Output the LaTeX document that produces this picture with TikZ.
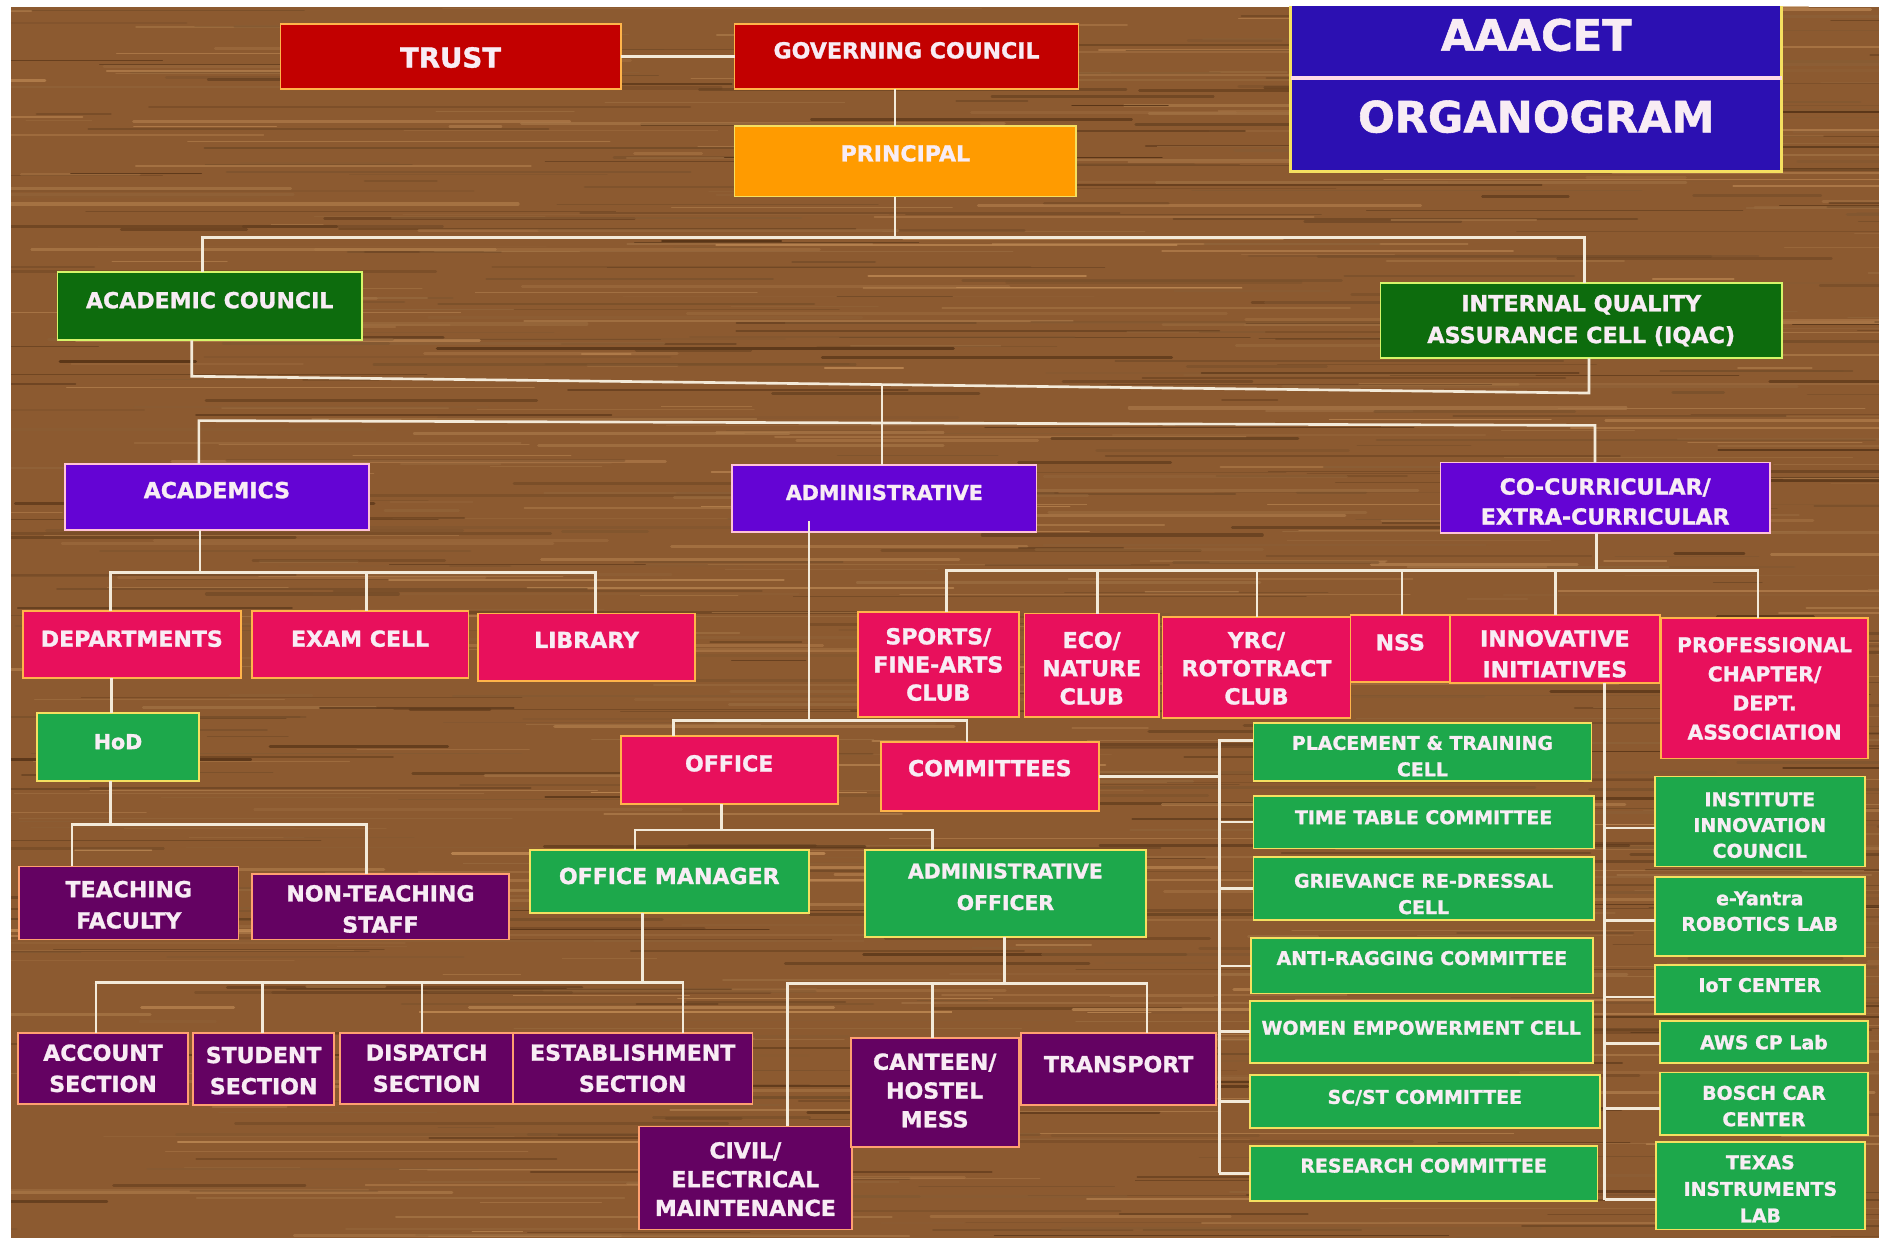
\documentclass[tikz,border=0pt]{standalone}
\usepackage{fontspec}
\setmainfont{DejaVu Sans}[BoldFeatures={FakeBold=1.3}]
\definecolor{wood}{HTML}{8C5A30}
\definecolor{woodD}{HTML}{4A2A10}
\definecolor{woodL}{HTML}{C48E58}
\definecolor{cRed}{HTML}{C20000}
\definecolor{cOra}{HTML}{FF9B00}
\definecolor{cDG}{HTML}{0D6C0D}
\definecolor{cBlue}{HTML}{2C10B2}
\definecolor{cPur}{HTML}{6404D4}
\definecolor{cPink}{HTML}{E8105C}
\definecolor{cGrn}{HTML}{1DA84B}
\definecolor{cDP}{HTML}{640262}
\definecolor{bOra}{HTML}{FFB44A}
\definecolor{bYel}{HTML}{F5E060}
\definecolor{bLG}{HTML}{D6F56A}
\definecolor{bPink}{HTML}{FFC2D6}
\definecolor{bPO}{HTML}{FFA070}
\definecolor{txt}{HTML}{F8ECF4}
\definecolor{conn}{HTML}{F3EAD9}
\newcommand\lf[2]{\bfseries\fontsize{#1}{#2}\selectfont}
\newcommand\orgbox[9]{%
  \node[#2, minimum width={(#6)-(#4)}, minimum height={(#7)-(#5)}] (#1) at ({((#4)+(#6))/2},{((#5)+(#7))/2}) {};%
  \node[#3] (#1-t) at ({((#4)+(#6))/2},{#8}) {#9};%
}
\tikzset{
  bx/.style={draw, line width=1.5pt, inner sep=0pt, outer sep=0pt},
  redbox/.style={bx, fill=cRed, draw=bOra},
  orabox/.style={bx, fill=cOra, draw=bYel},
  dgbox/.style={bx, fill=cDG, draw=bLG},
  purbox/.style={bx, fill=cPur, draw=bPink},
  pinkbox/.style={bx, fill=cPink, draw=bOra},
  grnbox/.style={bx, fill=cGrn, draw=bYel},
  dpbox/.style={bx, fill=cDP, draw=bPO},
  bluebox/.style={bx, fill=cBlue, draw=bYel, line width=2.5pt},
  lbl/.style={text=txt, align=center, inner sep=0pt, font=\lf{18.4}{24.5}},
  lbls/.style={lbl, font=\lf{15.8}{22}},
  cn/.style={draw=conn, line width=2.2pt},
}
\begin{document}
\begin{tikzpicture}[x=1pt,y=-1pt]
\useasboundingbox (0,0) rectangle (1568,1033);
\begin{scope}
\clip (9.2,5.8) rectangle (1568,1033);
\fill[wood] (9.2,5.8) rectangle (1568,1033);
\pgfmathsetseed{12345}
\foreach \i in {1,...,1100}{
  \pgfmathsetmacro\yy{5.8+1028*rnd}
  \pgfmathsetmacro\xa{-100+1700*rnd}
  \pgfmathsetmacro\ll{40+420*rnd}
  \pgfmathsetmacro\ww{0.5+2.2*rnd}
  \pgfmathtruncatemacro\pp{100*rnd}
  \pgfmathsetmacro\op{0.3+0.5*rnd}
  \draw[color=woodD!\pp!woodL, line width=\ww pt, opacity=\op, line cap=round] (\xa,\yy) -- ++(\ll,0);
}

% title
\orgbox{tt1}{bluebox}{lbl,font=\lf{36}{40}}{1077}{3}{1487}{65}{29.2}{AAACET}
\orgbox{tt2}{bluebox}{lbl,font=\lf{36}{40}}{1077}{65}{1487}{143}{97.4}{ORGANOGRAM}
\draw[draw=bPink!60!white, line width=3pt] (tt1.south west) -- (tt1.south east);

% boxes
\orgbox{trust}{redbox}{lbl,font=\lf{23}{28}}{234}{20}{518}{74}{48}{TRUST}
\orgbox{gc}{redbox}{lbl}{613}{20}{900}{74}{42}{GOVERNING COUNCIL}
\orgbox{prin}{orabox}{lbl}{613}{105}{898}{164}{128}{PRINCIPAL}
\orgbox{ac}{dgbox}{lbl}{48}{227}{302}{284}{250.5}{ACADEMIC COUNCIL}
\orgbox{iqac}{dgbox}{lbl,font=\lf{18.6}{26.5}}{1152}{236}{1487}{299}{267.5}{INTERNAL QUALITY\\ASSURANCE CELL (IQAC)}
\orgbox{acad}{purbox}{lbl}{54}{387}{308}{442}{409}{ACADEMICS}
\orgbox{admin}{purbox}{lbl,font=\lf{17.2}{24}}{611}{388}{865}{444}{411}{ADMINISTRATIVE}
\orgbox{cocur}{purbox}{lbl,font=\lf{18.4}{25}}{1202}{386}{1477}{445}{418.5}{CO-CURRICULAR/\\EXTRA-CURRICULAR}
\orgbox{dept}{pinkbox}{lbl}{19}{510}{201}{566}{533}{DEPARTMENTS}
\orgbox{exam}{pinkbox}{lbl}{210}{510}{391}{566}{533}{EXAM CELL}
\orgbox{lib}{pinkbox}{lbl}{399}{512}{580}{568}{534}{LIBRARY}
\orgbox{hod}{grnbox}{lbl,font=\lf{17.2}{24}}{31}{595}{166}{652}{619}{HoD}
\orgbox{teach}{dpbox}{lbl,font=\lf{18.4}{26}}{16}{723}{199}{784}{755}{TEACHING\\FACULTY}
\orgbox{nonteach}{dpbox}{lbl,font=\lf{18.4}{26}}{210}{729}{425}{784}{758.5}{NON-TEACHING\\STAFF}
\orgbox{office}{pinkbox}{lbl}{518}{614}{699}{671}{637}{OFFICE}
\orgbox{comm}{pinkbox}{lbl}{735}{619}{917}{677}{641}{COMMITTEES}
\orgbox{offman}{grnbox}{lbl}{442}{709}{675}{762}{731}{OFFICE MANAGER}
\orgbox{admoff}{grnbox}{lbl,font=\lf{17}{26.4}}{722}{709}{956}{782}{740}{ADMINISTRATIVE\\OFFICER}
\orgbox{account}{dpbox}{lbl,font=\lf{18.4}{26}}{15}{862}{157}{921}{891.5}{ACCOUNT\\SECTION}
\orgbox{student}{dpbox}{lbl,font=\lf{18.4}{26}}{161}{862}{279}{922}{893.4}{STUDENT\\SECTION}
\orgbox{dispatch}{dpbox}{lbl,font=\lf{18.4}{26}}{284}{862}{428}{921}{891.4}{DISPATCH\\SECTION}
\orgbox{estab}{dpbox}{lbl,font=\lf{18.4}{26}}{428}{862}{628}{921}{891.4}{ESTABLISHMENT\\SECTION}
\orgbox{civil}{dpbox}{lbl,font=\lf{18.4}{24}}{533}{940}{711}{1026}{984}{CIVIL/\\ELECTRICAL\\MAINTENANCE}
\orgbox{canteen}{dpbox}{lbl,font=\lf{18.4}{24}}{710}{866}{850}{957}{910}{CANTEEN/\\HOSTEL\\MESS}
\orgbox{transport}{dpbox}{lbl}{852}{862}{1015}{922}{888}{TRANSPORT}
\orgbox{sports}{pinkbox}{lbl,font=\lf{18.4}{23.5}}{716}{511}{850}{598}{554.5}{SPORTS/\\FINE-ARTS\\CLUB}
\orgbox{eco}{pinkbox}{lbl,font=\lf{18.4}{23.5}}{855}{512}{967}{598}{557.6}{ECO/\\NATURE\\CLUB}
\orgbox{yrc}{pinkbox}{lbl,font=\lf{18.4}{23.5}}{970}{515}{1127}{599}{557.6}{YRC/\\ROTOTRACT\\CLUB}
\orgbox{nss}{pinkbox}{lbl}{1127}{513}{1210}{569}{536}{NSS}
\orgbox{innov}{pinkbox}{lbl,font=\lf{18.4}{25.8}}{1210}{513}{1385}{570}{545.6}{INNOVATIVE\\INITIATIVES}
\orgbox{prof}{pinkbox}{lbl,font=\lf{17}{24.3}}{1386}{516}{1559}{633}{574.5}{PROFESSIONAL\\CHAPTER/\\DEPT.\\ASSOCIATION}
\orgbox{placement}{grnbox}{lbls}{1046}{603}{1328}{652}{631}{PLACEMENT \& TRAINING\\CELL}
\orgbox{timetable}{grnbox}{lbls}{1046}{664}{1330}{708}{682}{TIME TABLE COMMITTEE}
\orgbox{griev}{grnbox}{lbls}{1046}{715}{1330}{768}{746}{GRIEVANCE RE-DRESSAL\\CELL}
\orgbox{anti}{grnbox}{lbls}{1044}{783}{1329}{829}{799.5}{ANTI-RAGGING COMMITTEE}
\orgbox{women}{grnbox}{lbls}{1043}{835}{1329}{887}{857.7}{WOMEN EMPOWERMENT CELL}
\orgbox{scst}{grnbox}{lbls}{1043}{897}{1335}{941}{916}{SC/ST COMMITTEE}
\orgbox{research}{grnbox}{lbls}{1043}{956}{1333}{1002}{972.7}{RESEARCH COMMITTEE}
\orgbox{iic}{grnbox}{lbls,font=\lf{15.8}{21.5}}{1381}{648}{1556}{723}{688.5}{INSTITUTE\\INNOVATION\\COUNCIL}
\orgbox{eyantra}{grnbox}{lbls,font=\lf{15.8}{21.4}}{1381}{732}{1556}{798}{760.4}{e-Yantra\\ROBOTICS LAB}
\orgbox{iot}{grnbox}{lbls}{1381}{805}{1556}{846}{822}{IoT CENTER}
\orgbox{aws}{grnbox}{lbls}{1385}{852}{1559}{887}{869.7}{AWS CP Lab}
\orgbox{bosch}{grnbox}{lbls}{1385}{895}{1559}{947}{923}{BOSCH CAR\\CENTER}
\orgbox{texas}{grnbox}{lbls,font=\lf{15.8}{22.2}}{1382}{953}{1556}{1026}{992}{TEXAS\\INSTRUMENTS\\LAB}

% junction coordinates
\coordinate (pv) at (747,198);
\coordinate (b1l) at (169,198);
\coordinate (b1r) at (1322,198);
\coordinate (b2l) at (160,314);
\coordinate (b2r) at (1326,328);
\coordinate (b2m) at (736,320.9);
\coordinate (b3m) at (736,353);
\coordinate (b3l) at (166,351);
\coordinate (b3r) at (1331,355);
\coordinate (a1) at (167,478);
\coordinate (a1l) at (92,478);
\coordinate (a1r) at (497,478);
\coordinate (a1e) at (306,478);
\coordinate (hd) at (93,580);
\coordinate (h1) at (92,688);
\coordinate (h1l) at (60,688);
\coordinate (h1r) at (306,688);
\coordinate (ad0) at (675,435);
\coordinate (ad1) at (675,601);
\coordinate (ad1l) at (562,601);
\coordinate (ad1r) at (807,601);
\coordinate (o1) at (602,692.6);
\coordinate (o1l) at (530,692.6);
\coordinate (o1r) at (778,692.6);
\coordinate (m1) at (536,820);
\coordinate (m1l) at (80,820);
\coordinate (m1r) at (570,820);
\coordinate (m1s) at (219,820);
\coordinate (m1d) at (352,820);
\coordinate (q1) at (838,820.5);
\coordinate (q1l) at (657,820.5);
\coordinate (q1r) at (957,820.5);
\coordinate (q1c) at (778,820.5);
\coordinate (cvt) at (1017.5,618);
\coordinate (k1) at (1332,476);
\coordinate (k1l) at (790,476);
\coordinate (k1r) at (1467,476);
\coordinate (k2) at (915.6,476);
\coordinate (k3) at (1049,476);
\coordinate (k4) at (1170,476);
\coordinate (k5) at (1298,476);
\coordinate (iv) at (1339,600);
\coordinate (iv1) at (1339,691);
\coordinate (iv2) at (1339,768);
\coordinate (iv3) at (1339,832);
\coordinate (iv4) at (1339,871);
\coordinate (iv5) at (1339,925);
\coordinate (iv6) at (1339,1001);

% connectors
\draw[cn] (trust.east) -- (gc.west);
\draw[cn] (gc.south -| pv) -- (prin.north -| pv);
\draw[cn] (prin.south -| pv) -- (pv);
\draw[cn] (ac.north -| b1l) -- (b1l) -- (b1r) -- (iqac.north -| b1r);
\draw[cn] (ac.south -| b2l) -- (b2l) -- (b2r) -- (iqac.south -| b2r);
\draw[cn] (b2m) -- (b3m);
\draw[cn] (acad.north -| b3l) -- (b3l) -- (b3r) -- (cocur.north -| b3r);
\draw[cn] (b3m) -- (admin.north -| b3m);
\draw[cn] (acad.south -| a1) -- (a1);
\draw[cn] (dept.north -| a1l) -- (a1l) -- (a1r) -- (lib.north -| a1r);
\draw[cn] (a1e) -- (exam.north -| a1e);
\draw[cn] (dept.south -| hd) -- (hod.north -| hd);
\draw[cn] (hod.south -| h1) -- (h1);
\draw[cn] (teach.north -| h1l) -- (h1l) -- (h1r) -- (nonteach.north -| h1r);
\draw[cn] (ad0) -- (ad1);
\draw[cn] (office.north -| ad1l) -- (ad1l) -- (ad1r) -- (comm.north -| ad1r);
\draw[cn] (office.south -| o1) -- (o1);
\draw[cn] (offman.north -| o1l) -- (o1l) -- (o1r) -- (admoff.north -| o1r);
\draw[cn] (offman.south -| m1) -- (m1);
\draw[cn] (account.north -| m1l) -- (m1l) -- (m1r) -- (estab.north -| m1r);
\draw[cn] (m1s) -- (student.north -| m1s);
\draw[cn] (m1d) -- (dispatch.north -| m1d);
\draw[cn] (admoff.south -| q1) -- (q1);
\draw[cn] (civil.north -| q1l) -- (q1l) -- (q1r) -- (transport.north -| q1r);
\draw[cn] (q1c) -- (canteen.north -| q1c);
\draw[cn] (comm.east) -- (comm.east -| cvt);
\draw[cn] (placement.west |- cvt) -- (cvt) -- (research.west -| cvt);
\draw[cn] (timetable.west -| cvt) -- (timetable.west);
\draw[cn] (griev.west -| cvt) -- (griev.west);
\draw[cn] (anti.west -| cvt) -- (anti.west);
\draw[cn] (women.west -| cvt) -- (women.west);
\draw[cn] (scst.west -| cvt) -- (scst.west);
\draw[cn] (research.west -| cvt) -- (research.west);
\draw[cn] (cocur.south -| k1) -- (k1);
\draw[cn] (sports.north -| k1l) -- (k1l) -- (k1r) -- (prof.north -| k1r);
\draw[cn] (k2) -- (eco.north -| k2);
\draw[cn] (k3) -- (yrc.north -| k3);
\draw[cn] (k4) -- (nss.north -| k4);
\draw[cn] (k5) -- (innov.north -| k5);
\draw[cn] (innov.south -| iv) -- (iv6);
\draw[cn] (iv1) -- (iic.west |- iv1);
\draw[cn] (iv2) -- (eyantra.west |- iv2);
\draw[cn] (iv3) -- (iot.west |- iv3);
\draw[cn] (iv4) -- (aws.west |- iv4);
\draw[cn] (iv5) -- (bosch.west |- iv5);
\draw[cn] (iv6) -- (texas.west |- iv6);
\end{scope}
\end{tikzpicture}
\end{document}
